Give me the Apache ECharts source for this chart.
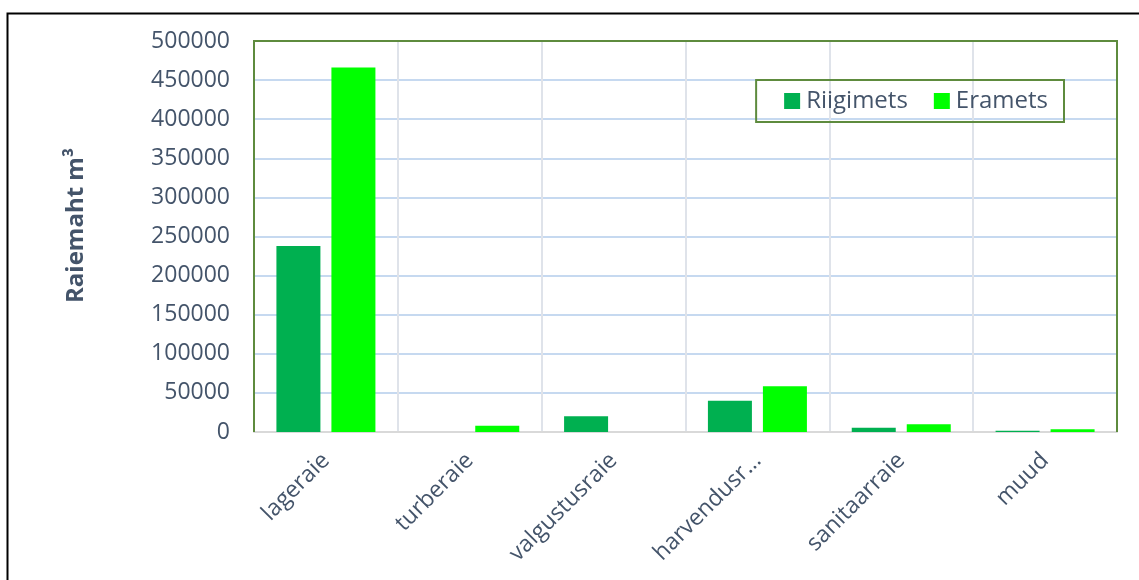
<!DOCTYPE html>
<html>
<head>
<meta charset="utf-8">
<script src="https://cdn.jsdelivr.net/npm/echarts@6/dist/echarts.min.js"></script>
<style>
  html, body { margin: 0; padding: 0; background: #fff; }
  #chart { width: 1139px; height: 580px; }
</style>
</head>
<body>
<div id="chart"></div>
<script>
var categories = ['lageraie', 'turberaie', 'valgustusraie', 'harvendusr…', 'sanitaarraie', 'muud']
var riigimets = [238000, 0, 20000, 40000, 5500, 1500]
var eramets = [466000, 8000, 0, 58500, 10000, 3500]

var textColor = '#44546a'
var font = 'Open Sans'
var frameGreen = '#5e8b3e'

var chart = echarts.init(document.getElementById('chart'))
var option = {
  animation: false,
  textStyle: { fontFamily: font },
  graphic: [
    {
      type: 'rect',
      shape: { x: 7.5, y: 13.5, width: 1160, height: 600 },
      style: { fill: 'none', stroke: '#000', lineWidth: 2 },
      silent: true
    },
    {
      // plot area frame (left, top, right sides)
      type: 'polyline',
      z: 100,
      shape: { points: [[254, 432], [254, 41], [1117, 41], [1117, 432]] },
      style: { fill: 'none', stroke: frameGreen, lineWidth: 2 },
      silent: true
    }
  ],
  legend: {
    right: 75,
    top: 80,
    padding: [9, 16, 9, 28],
    itemWidth: 16,
    itemHeight: 16,
    itemGap: 26,
    icon: 'rect',
    borderColor: frameGreen,
    borderWidth: 2,
    textStyle: { color: textColor, fontSize: 24, fontFamily: font, padding: [0, 0, 0, 1] },
    data: ['Riigimets', 'Eramets']
  },
  grid: {
    left: 254,
    right: 22,
    top: 41,
    bottom: 148
  },
  xAxis: {
    type: 'category',
    data: categories,
    axisLine: { lineStyle: { color: '#d9d9d9', width: 2 } },
    axisTick: { show: false },
    splitLine: { show: true, lineStyle: { color: '#dfe3ea', width: 2 } },
    axisLabel: {
      rotate: 45,
      margin: 25,
      color: textColor,
      fontSize: 23,
      fontFamily: font,
      interval: 0
    }
  },
  yAxis: {
    type: 'value',
    min: 0,
    max: 500000,
    interval: 50000,
    name: 'Raiemaht m³',
    nameLocation: 'middle',
    nameGap: 166,
    nameTextStyle: {
      color: textColor,
      fontSize: 24,
      fontWeight: 'bold',
      fontFamily: font,
      padding: [0, 0, 0, 22]
    },
    axisLine: { show: false },
    axisTick: { show: false },
    splitLine: { lineStyle: { color: '#c6d9f0', width: 2 } },
    axisLabel: {
      color: textColor,
      fontSize: 23,
      margin: 24,
      fontFamily: font,
      formatter: function (v) { return String(v) }
    }
  },
  series: [
    {
      name: 'Riigimets',
      type: 'bar',
      data: riigimets,
      barWidth: 44,
      barGap: '25%',
      itemStyle: { color: '#00b050' }
    },
    {
      name: 'Eramets',
      type: 'bar',
      data: eramets,
      barWidth: 44,
      itemStyle: { color: '#00ff00' }
    }
  ]
}
chart.setOption(option)
</script>
</body>
</html>
